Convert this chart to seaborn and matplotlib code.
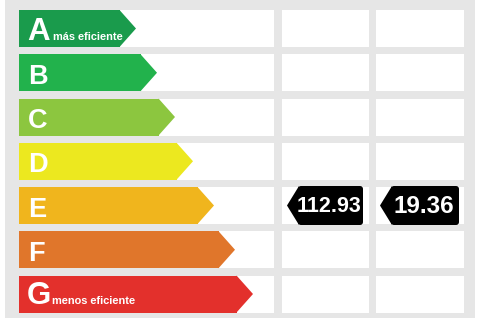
import matplotlib
matplotlib.use("Agg")
import matplotlib.pyplot as plt
from matplotlib.patches import Polygon, Rectangle, FancyBboxPatch
import seaborn as sns

sns.set_theme(style="white")
plt.rcParams['font.family'] = ['Liberation Sans', 'DejaVu Sans']

ratings = ['A', 'B', 'C', 'D', 'E', 'F', 'G']
bar_lengths = [101, 122, 140, 158, 179, 200, 218]
colors = ['#1a9b4c', '#22b24c', '#8cc63f', '#ece81f', '#f0b51d', '#e0762b', '#e3302c']
subtitles = {'A': 'más eficiente', 'G': 'menos eficiente'}
energy_value = 112.93
emission_value = 19.36
value_rating = 'E'

fig = plt.figure(figsize=(4.8, 3.2), dpi=100)
bg = fig.add_axes([0, 0, 1, 1])
bg.set_xlim(0, 480)
bg.set_ylim(320, 0)
bg.axis('off')
bg.add_patch(Rectangle((5, 0), 470, 318, facecolor='#e6e6e6', edgecolor='none'))

row_px = 44.25
top_px = 28.5 - row_px / 2
bx = fig.add_axes([0, 1 - (top_px + 7 * row_px) / 320, 1, 7 * row_px / 320])
bx.patch.set_alpha(0)
w = 37 / row_px
x0 = 19

sns.barplot(x=bar_lengths, y=ratings, hue=ratings, palette=colors, orient='h',
            width=w, saturation=1, legend=False, ax=bx, zorder=3, linewidth=0)
bx.set_xlim(-x0, 480 - x0)
bx.set_ylim(6.5, -0.5)
bx.axis('off')

cells = [(19, 274), (282, 369), (376, 464)]
for i in range(len(ratings)):
    for (a, b) in cells:
        bx.add_patch(Rectangle((a - x0, i - w / 2), b - a, w, facecolor='white',
                               edgecolor='none', zorder=1))

tip = 16
for i, (r, L, c) in enumerate(zip(ratings, bar_lengths, colors)):
    bx.add_patch(Polygon([(L - 0.5, i - w / 2), (L + tip, i), (L - 0.5, i + w / 2)],
                         closed=True, facecolor=c, edgecolor='none', zorder=3))
    if r in subtitles:
        off = 0.25 if r == 'A' else 0.225
        bx.text(8, i + off, r, color='white', fontsize=22.5, fontweight='bold',
                va='baseline', ha='left', zorder=5)
        bx.text(34 if r == 'A' else 33, i + off, subtitles[r], color='white',
                fontsize=7.9, fontweight='bold', va='baseline', ha='left', zorder=5)
    else:
        bx.text(9, i + 0.25, r, color='white', fontsize=19.5, fontweight='bold',
                va='baseline', ha='left', zorder=5)

ri = ratings.index(value_rating)
th = 39 / row_px
for (left, tipx, right, val, fs) in [(298, 287, 363, energy_value, 15.5),
                                      (391, 380, 459, emission_value, 17.5)]:
    bx.add_patch(FancyBboxPatch((left - x0, ri - th / 2), right - left, th,
                                boxstyle='round,pad=0,rounding_size=3',
                                mutation_aspect=1 / row_px,
                                facecolor='black', edgecolor='none', zorder=6))
    bx.add_patch(Polygon([(left - x0 + 1, ri - th / 2), (tipx - x0, ri), (left - x0 + 1, ri + th / 2)],
                         closed=True, facecolor='black', edgecolor='none', zorder=6))
    bx.text((left + right) / 2 - x0 - 1, ri + 0.02, f'{val:.2f}', color='white',
            fontsize=fs, fontweight='bold', ha='center', va='center', zorder=7)

fig.savefig('out.png', dpi=100)
